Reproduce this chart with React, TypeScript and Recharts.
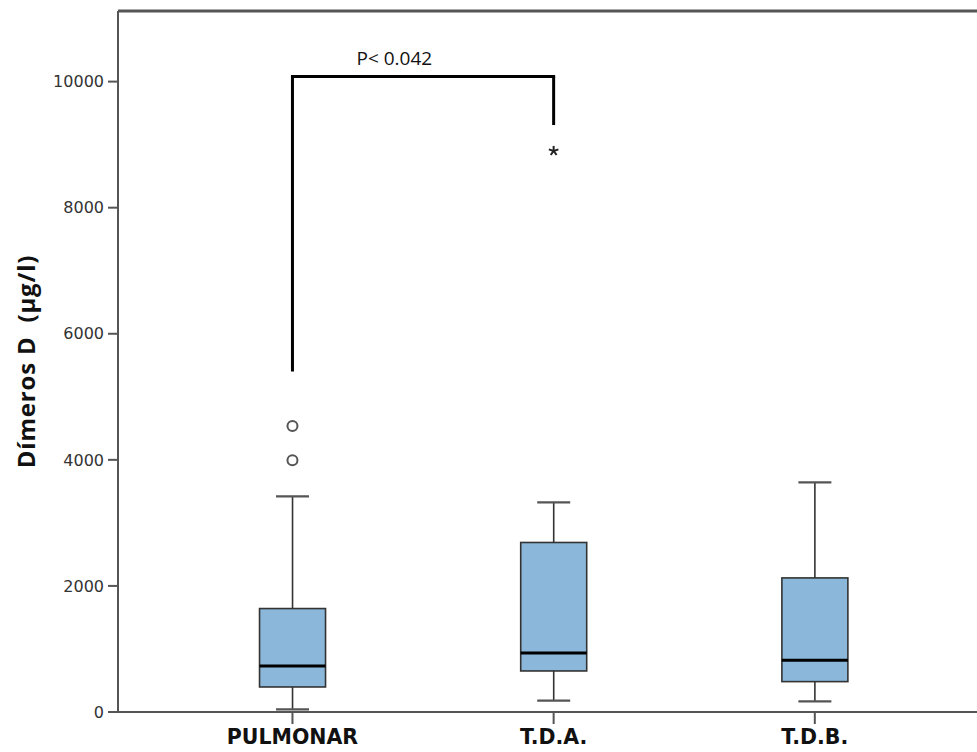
import React from 'react'
import {
  ComposedChart, Bar, Scatter, XAxis, YAxis, ReferenceLine, Label,
} from 'recharts'

// Groups and box-plot statistics (µg/l)
const categories = ['PULMONAR', 'T.D.A.', 'T.D.B.']
const mins       = [43, 181, 170]
const q1s        = [397, 651, 482]
const medians    = [730, 937, 821]
const q3s        = [1641, 2689, 2127]
const maxs       = [3419, 3324, 3641]

// Outliers: circles = mild, stars = extreme
const mildOutliers    = [{ pos: 1, value: 4535 }, { pos: 1, value: 3995 }]
const extremeOutliers = [{ pos: 2, value: 8900 }]

// Significance bracket between PULMONAR and T.D.A.
const bracketLeftLow  = 5424
const bracketTop      = 10079
const bracketRightLow = 9311
const pLabel          = 'P< 0.042'

const yTicks = [0, 2000, 4000, 6000, 8000, 10000]
const Y_MAX  = 11120

const boxData = categories.map((name, i) => ({
  name,
  pos: i + 1,
  median: medians[i],
  base: mins[i],
  lowWhisker: q1s[i] - mins[i],
  box: q3s[i] - q1s[i],
  highWhisker: maxs[i] - q3s[i],
}))

const EDGE = '#555'
const CAP  = 33

function LowWhisker({ x, y, width, height }: any) {
  const cx = x + width / 2
  return (
    <g stroke="#333" strokeWidth={1.6}>
      <line x1={cx} x2={cx} y1={y} y2={y + height} />
      <line x1={cx - CAP / 2} x2={cx + CAP / 2} y1={y + height} y2={y + height} strokeWidth={2.2} stroke="#555" />
    </g>
  )
}

function HighWhisker({ x, y, width, height }: any) {
  const cx = x + width / 2
  return (
    <g stroke="#333" strokeWidth={1.6}>
      <line x1={cx} x2={cx} y1={y} y2={y + height} />
      <line x1={cx - CAP / 2} x2={cx + CAP / 2} y1={y} y2={y} strokeWidth={2.2} stroke="#555" />
    </g>
  )
}

function BoxShape({ x, y, width, height, payload }: any) {
  // pixel position of the median inside the q1..q3 box
  const top = payload.box + payload.base + payload.lowWhisker
  const my = y + ((top - payload.median) / payload.box) * height
  return (
    <g>
      <rect x={x} y={y} width={width} height={height} fill="#8BB8DA" stroke="#333" strokeWidth={1.6} />
      <line x1={x} x2={x + width} y1={my} y2={my} stroke="#000" strokeWidth={3} />
    </g>
  )
}

function Circle({ cx, cy }: any) {
  return <circle cx={cx} cy={cy} r={5} fill="#fff" stroke="#555" strokeWidth={2} />
}

function Star({ cx, cy }: any) {
  const r = 5
  const arms = [0, 72, 144, 216, 288].map(a => {
    const t = ((a - 90) * Math.PI) / 180
    return <line key={a} x1={cx} y1={cy} x2={cx + r * Math.cos(t)} y2={cy + r * Math.sin(t)} />
  })
  return <g stroke="#222" strokeWidth={2}>{arms}</g>
}

function PText({ cx, cy }: any) {
  return (
    <text x={cx} y={cy} textAnchor="middle" dominantBaseline="central"
      fontFamily="'Open Sans', sans-serif" fontSize={19} fill="#111">
      {pLabel}
    </text>
  )
}

const pPoint = [{ pos: 1.39, value: 10376 }]

export default function App() {
  return (
    <div style={{ position: 'absolute', left: 0, top: 0, width: 977, height: 752, background: '#fff' }}>
      <ComposedChart width={977} height={752} data={boxData} margin={{ top: 11, right: 0, bottom: 0, left: 0 }}>
        <XAxis
          dataKey="pos" type="number" domain={[0.332, 3.621]} allowDataOverflow
          ticks={[1, 2, 3]} tickFormatter={v => categories[v - 1] ?? ''}
          height={40} tickSize={12} tickMargin={5}
          axisLine={{ stroke: EDGE, strokeWidth: 2 }}
          tickLine={{ stroke: EDGE, strokeWidth: 2 }}
          tick={{ fontFamily: 'DejaVu Sans', fontWeight: 'bold', fontSize: 20.5, fill: '#111' }}
        />
        <YAxis
          type="number" domain={[0, Y_MAX]} allowDataOverflow ticks={yTicks}
          width={118} tickSize={10} tickMargin={4}
          axisLine={{ stroke: EDGE, strokeWidth: 2 }}
          tickLine={{ stroke: EDGE, strokeWidth: 2 }}
          tick={{ fontFamily: 'DejaVu Sans', fontSize: 16, fill: '#333' }}
        >
          <Label
            content={({ viewBox }: any) => {
              const cx = viewBox.x + 25
              const cy = viewBox.y + viewBox.height / 2
              return (
                <text x={cx} y={cy} transform={`rotate(-90 ${cx} ${cy})`} textAnchor="middle"
                  dominantBaseline="central" fontFamily="'Open Sans', sans-serif" fontWeight="bold"
                  fontSize={24} letterSpacing={0.8} fill="#111" style={{ whiteSpace: 'pre' }}>
                  Dímeros D  (µg/l)
                </text>
              )
            }}
          />
        </YAxis>

        {/* top frame edge */}
        <ReferenceLine y={Y_MAX} stroke={EDGE} strokeWidth={3} />

        <Bar dataKey="base" stackId="b" barSize={66} fill="transparent" isAnimationActive={false} />
        <Bar dataKey="lowWhisker" stackId="b" barSize={66} shape={<LowWhisker />} isAnimationActive={false} />
        <Bar dataKey="box" stackId="b" barSize={66} shape={<BoxShape />} isAnimationActive={false} />
        <Bar dataKey="highWhisker" stackId="b" barSize={66} shape={<HighWhisker />} isAnimationActive={false} />

        <Scatter data={mildOutliers} dataKey="value" shape={<Circle />} isAnimationActive={false} />
        <Scatter data={extremeOutliers} dataKey="value" shape={<Star />} isAnimationActive={false} />

        {/* significance bracket */}
        <ReferenceLine segment={[{ x: 1, y: bracketLeftLow }, { x: 1, y: bracketTop }]} stroke="#000" strokeWidth={3} strokeLinecap="square" />
        <ReferenceLine segment={[{ x: 1, y: bracketTop }, { x: 2, y: bracketTop }]} stroke="#000" strokeWidth={3} strokeLinecap="square" />
        <ReferenceLine segment={[{ x: 2, y: bracketTop }, { x: 2, y: bracketRightLow }]} stroke="#000" strokeWidth={3} />
        <Scatter data={pPoint} dataKey="value" shape={<PText />} isAnimationActive={false} />
      </ComposedChart>
    </div>
  )
}
